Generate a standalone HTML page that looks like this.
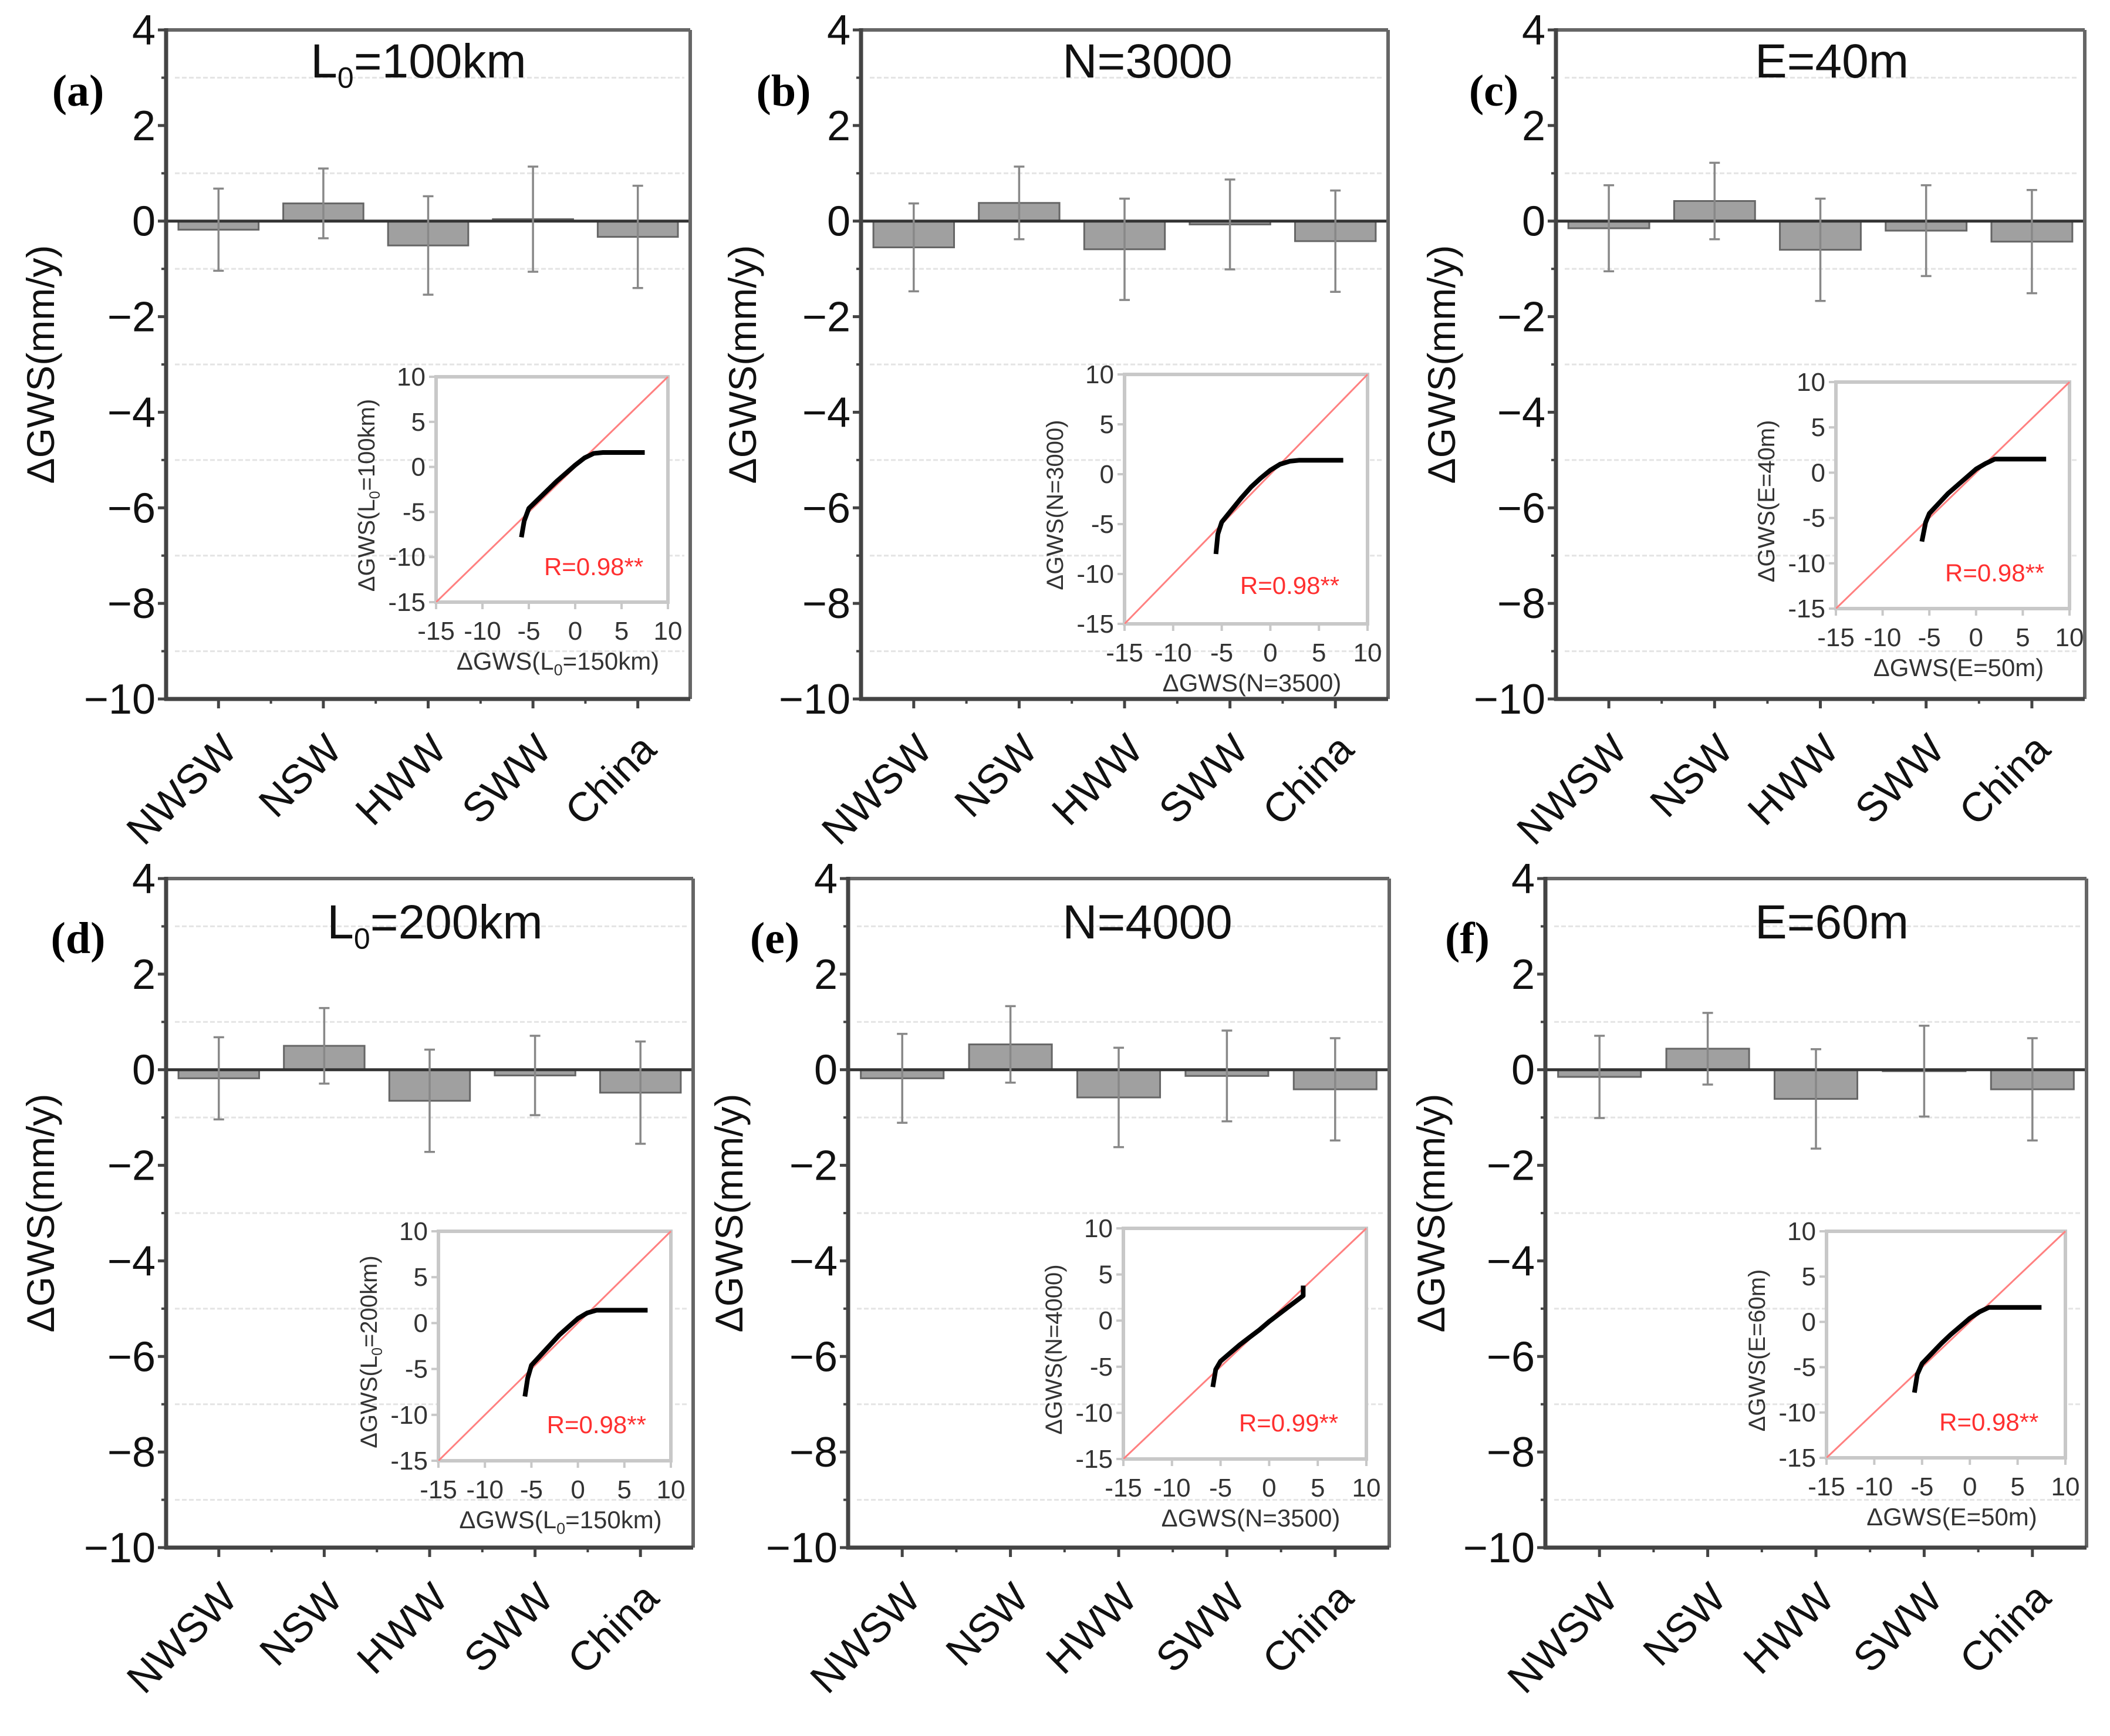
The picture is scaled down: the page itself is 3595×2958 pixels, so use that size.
<!DOCTYPE html>
<html><head><meta charset="utf-8"><style>
html,body{margin:0;padding:0;background:#fff;}
svg{display:block;font-family:"Liberation Sans",sans-serif;}
</style></head><body>
<svg id="fig" width="3595" height="2958" viewBox="0 0 3595 2958" xmlns="http://www.w3.org/2000/svg"></svg>
<script>
const categories = ["NWSW","NSW","HWW","SWW","China"];
const valsA = [-0.18,0.37,-0.51,0.04,-0.33];
const sdA   = [0.86,0.73,1.03,1.1,1.07];
const valsB = [-0.55,0.38,-0.59,-0.07,-0.42];
const sdB   = [0.92,0.76,1.06,0.94,1.06];
const valsC = [-0.15,0.42,-0.6,-0.2,-0.43];
const sdC   = [0.9,0.8,1.07,0.95,1.08];
const valsD = [-0.18,0.5,-0.65,-0.12,-0.48];
const sdD   = [0.86,0.79,1.07,0.83,1.07];
const valsE = [-0.18,0.53,-0.58,-0.13,-0.41];
const sdE   = [0.93,0.8,1.04,0.95,1.07];
const valsF = [-0.15,0.44,-0.61,-0.03,-0.41];
const sdF   = [0.86,0.75,1.04,0.95,1.07];
const yTicks = [4,2,0,-2,-4,-6,-8,-10];
const insetTicks = [-15,-10,-5,0,5,10];
const curveX_A = [-5.8,-5.5,-5,-4,-3,-2,-1,0,1,2,3,7.5];
const curveY_A = [-7.8,-6,-4.6,-3.6,-2.6,-1.6,-0.7,0.2,1,1.5,1.6,1.6];
const curveX_B = [-5.6,-5.4,-5,-4,-3,-2,-1,0,1,2,3,7.5];
const curveY_B = [-8,-6,-4.8,-3.6,-2.4,-1.3,-0.4,0.4,1,1.3,1.4,1.4];
const curveX_C = [-5.8,-5.4,-5,-4,-3,-2,-1,0,1,2,3,7.5];
const curveY_C = [-7.6,-5.5,-4.5,-3.4,-2.3,-1.4,-0.5,0.4,1,1.5,1.5,1.5];
const curveX_D = [-5.7,-5.4,-5,-4,-3,-2,-1,0,1,2,3,7.5];
const curveY_D = [-8,-6,-4.6,-3.5,-2.4,-1.3,-0.4,0.5,1.1,1.4,1.4,1.4];
const curveX_E = [-5.8,-5.5,-5,-4,-3,-2,-1,0,1,2,3,3.5,3.5];
const curveY_E = [-7.2,-5.3,-4.4,-3.5,-2.6,-1.8,-1,-0.1,0.7,1.5,2.3,2.7,3.8];
const curveX_F = [-5.8,-5.5,-5,-4,-3,-2,-1,0,1,2,3,7.5];
const curveY_F = [-7.8,-5.8,-4.6,-3.5,-2.4,-1.4,-0.5,0.4,1.1,1.6,1.6,1.6];
const rVals = ["R=0.98**","R=0.98**","R=0.98**","R=0.98**","R=0.99**","R=0.98**"];

const NS="http://www.w3.org/2000/svg";
const svg=document.getElementById('fig');
function mk(tag,attrs,parent,text){const e=document.createElementNS(NS,tag);for(const k in attrs)e.setAttribute(k,attrs[k]);if(text!==undefined)e.textContent=text;(parent||svg).appendChild(e);return e;}

const panels=[
 {id:'a',vals:valsA,sd:sdA,x0:283,x1:1176,y0:51,y1:1191,lab:'(a)',lx:133,ly:156,title:['L','0','=100km'],tx:713,ty:132,yt:69,inset:[743,642,1138,1026],cx:curveX_A,cy:curveY_A,iy:['ΔGWS(L','0','=100km)'],ix:['ΔGWS(L','0','=150km)']},
 {id:'b',vals:valsB,sd:sdB,x0:1467,x1:2365,y0:51,y1:1191,lab:'(b)',lx:1335,ly:156,title:['N=3000'],tx:1955,ty:132,yt:1265,inset:[1916,638,2330,1063],cx:curveX_B,cy:curveY_B,iy:['ΔGWS(N=3000)'],ix:['ΔGWS(N=3500)']},
 {id:'c',vals:valsC,sd:sdC,x0:2651,x1:3552,y0:51,y1:1191,lab:'(c)',lx:2545,ly:156,title:['E=40m'],tx:3121,ty:132,yt:2456,inset:[3128,651,3526,1037],cx:curveX_C,cy:curveY_C,iy:['ΔGWS(E=40m)'],ix:['ΔGWS(E=50m)']},
 {id:'d',vals:valsD,sd:sdD,x0:283,x1:1181,y0:1497,y1:2637,lab:'(d)',lx:133,ly:1600,title:['L','0','=200km'],tx:741,ty:1599,yt:69,inset:[747,2098,1143,2489],cx:curveX_D,cy:curveY_D,iy:['ΔGWS(L','0','=200km)'],ix:['ΔGWS(L','0','=150km)']},
 {id:'e',vals:valsE,sd:sdE,x0:1445,x1:2367,y0:1497,y1:2637,lab:'(e)',lx:1320,ly:1600,title:['N=4000'],tx:1955,ty:1599,yt:1242,inset:[1914,2093,2328,2486],cx:curveX_E,cy:curveY_E,iy:['ΔGWS(N=4000)'],ix:['ΔGWS(N=3500)']},
 {id:'f',vals:valsF,sd:sdF,x0:2633,x1:3555,y0:1497,y1:2637,lab:'(f)',lx:2500,ly:1600,title:['E=60m'],tx:3121,ty:1599,yt:2438,inset:[3112,2098,3519,2484],cx:curveX_F,cy:curveY_F,iy:['ΔGWS(E=60m)'],ix:['ΔGWS(E=50m)']}
];

function subText(parent,parts,attrs,subSize){
  const t=mk('text',attrs,parent);
  parts.forEach((p,i)=>{
    if(parts.length===3&&i===1){mk('tspan',{'font-size':subSize,dy:subSize*0.35},t,p);}
    else if(parts.length===3&&i===2){mk('tspan',{dy:-subSize*0.35},t,p);}
    else t.appendChild(document.createTextNode(p));
  });
  return t;
}

panels.forEach((p,pi)=>{
  const g=mk('g',{});
  
  
  const ys=v=>p.y0+(4-v)/14*(p.y1-p.y0);
  const w=p.x1-p.x0;
  const xs=i=>p.x0+(0.1+0.2*i)*w;
  for(let v=3;v>-10;v-=2){
    const gl=mk('line',{x1:p.x0+15,x2:p.x1-10,y1:ys(v),y2:ys(v),stroke:'#e4e4e4','stroke-width':3,'stroke-dasharray':'8 4'},g);
    
    
  }
  p.vals.forEach((v,i)=>{
    const bw=w*0.153;
    const r=mk('rect',{x:xs(i)-bw/2,y:Math.min(ys(v),ys(0)),width:bw,height:Math.abs(ys(v)-ys(0)),fill:'#a0a0a0',stroke:'#666','stroke-width':3},g);
    
    
  });
  mk('line',{x1:p.x0,x2:p.x1,y1:ys(0),y2:ys(0),stroke:'#333','stroke-width':5},g);
  p.vals.forEach((v,i)=>{
    const eg=mk('g',{stroke:'#888','stroke-width':3.5},g);
    
    
    const hi=ys(v+p.sd[i]),lo=ys(v-p.sd[i]),x=xs(i);
    mk('line',{x1:x,x2:x,y1:hi,y2:lo},eg);
    mk('line',{x1:x-9,x2:x+9,y1:hi,y2:hi},eg);
    mk('line',{x1:x-9,x2:x+9,y1:lo,y2:lo},eg);
  });
  mk('line',{x1:p.x0,x2:p.x1,y1:p.y0,y2:p.y0,stroke:'#666','stroke-width':6},g);
  mk('line',{x1:p.x1,x2:p.x1,y1:p.y0,y2:p.y1,stroke:'#666','stroke-width':6},g);
  const ya=mk('line',{x1:p.x0,x2:p.x0,y1:p.y0-3,y2:p.y1+3,stroke:'#444','stroke-width':7},g);
  
  
  const xa=mk('line',{x1:p.x0-3,x2:p.x1,y1:p.y1,y2:p.y1,stroke:'#444','stroke-width':7},g);
  
  
  yTicks.forEach(v=>{
    mk('line',{x1:p.x0-14,x2:p.x0,y1:ys(v),y2:ys(v),stroke:'#444','stroke-width':5},g);
    const t=mk('text',{x:p.x0-18,y:ys(v)+25,'text-anchor':'end','font-size':72,fill:'#111'},g,(v<0?'\u2212':'')+Math.abs(v));
    
    
  });
  for(let v=3;v>-10;v-=2) mk('line',{x1:p.x0-8,x2:p.x0,y1:ys(v),y2:ys(v),stroke:'#444','stroke-width':4},g);
  categories.forEach((c,i)=>{
    mk('line',{x1:xs(i),x2:xs(i),y1:p.y1,y2:p.y1+16,stroke:'#444','stroke-width':5},g);
    if(i<4) mk('line',{x1:xs(i)+w*0.1,x2:xs(i)+w*0.1,y1:p.y1,y2:p.y1+8,stroke:'#444','stroke-width':4},g);
    const ax=xs(i)+35, ay=p.y1+90;
    const t=mk('text',{x:ax,y:ay,'text-anchor':'end','font-size':70,fill:'#111',transform:`rotate(-45 ${ax} ${ay})`},g,c);
    
    
  });
  const cyT=(p.y0+p.y1)/2;
  const yt=mk('text',{x:p.yt,y:cyT,'text-anchor':'middle','font-size':66,fill:'#111',transform:`rotate(-90 ${p.yt} ${cyT})`,'dominant-baseline':'central'},g,'\u0394GWS(mm/y)');
  
  
  const pl=mk('text',{x:p.lx,y:p.ly+24,'text-anchor':'middle','font-size':76,'font-weight':'600','font-family':'Liberation Serif, serif',fill:'#000'},g,p.lab);
  
  
  const tt=subText(g,p.title,{x:p.tx,y:p.ty,'text-anchor':'middle','font-size':82,fill:'#111'},50);
  
  
  const [ix0,iy0,ix1,iy1]=p.inset;
  const ig=mk('g',{},g);
  
  
  const sx=v=>ix0+(v+15)/25*(ix1-ix0);
  const sy=v=>iy1-(v+15)/25*(iy1-iy0);
  mk('rect',{x:ix0,y:iy0,width:ix1-ix0,height:iy1-iy0,fill:'#fff',stroke:'#c8c8c8','stroke-width':6},ig);
  const dl=mk('line',{x1:sx(-15),y1:sy(-15),x2:sx(10),y2:sy(10),stroke:'#ff8080','stroke-width':3},ig);
  
  
  insetTicks.forEach(v=>{
    mk('line',{x1:sx(v),x2:sx(v),y1:iy1,y2:iy1+12,stroke:'#c8c8c8','stroke-width':4},ig);
    mk('line',{x1:ix0-12,x2:ix0,y1:sy(v),y2:sy(v),stroke:'#c8c8c8','stroke-width':4},ig);
    const tx=mk('text',{x:sx(v),y:iy1+64,'text-anchor':'middle','font-size':44,fill:'#333'},ig,String(v));
    
    
    const ty=mk('text',{x:ix0-18,y:sy(v)+15,'text-anchor':'end','font-size':44,fill:'#333'},ig,String(v));
    
    
  });
  const pts=p.cx.map((x,i)=>sx(x)+','+sy(p.cy[i])).join(' ');
  const cl=mk('polyline',{points:pts,fill:'none',stroke:'#000','stroke-width':8,'stroke-linejoin':'round'},ig);
  
  
  const rt=mk('text',{x:sx(2),y:sy(-12),'text-anchor':'middle','font-size':42,fill:'#ff3030'},ig,rVals[pi]);
  
  
  const ixt=subText(ig,p.ix,{x:(ix0+ix1)/2+10,y:iy1+115,'text-anchor':'middle','font-size':42,fill:'#333'},27);
  
  
  const ycx=ix0-105, ycy=(iy0+iy1)/2+10;
  const iyt=subText(ig,p.iy,{x:ycx,y:ycy,'text-anchor':'middle','font-size':40,fill:'#333',transform:`rotate(-90 ${ycx} ${ycy})`},25);
  
  
});
</script>
</body></html>
